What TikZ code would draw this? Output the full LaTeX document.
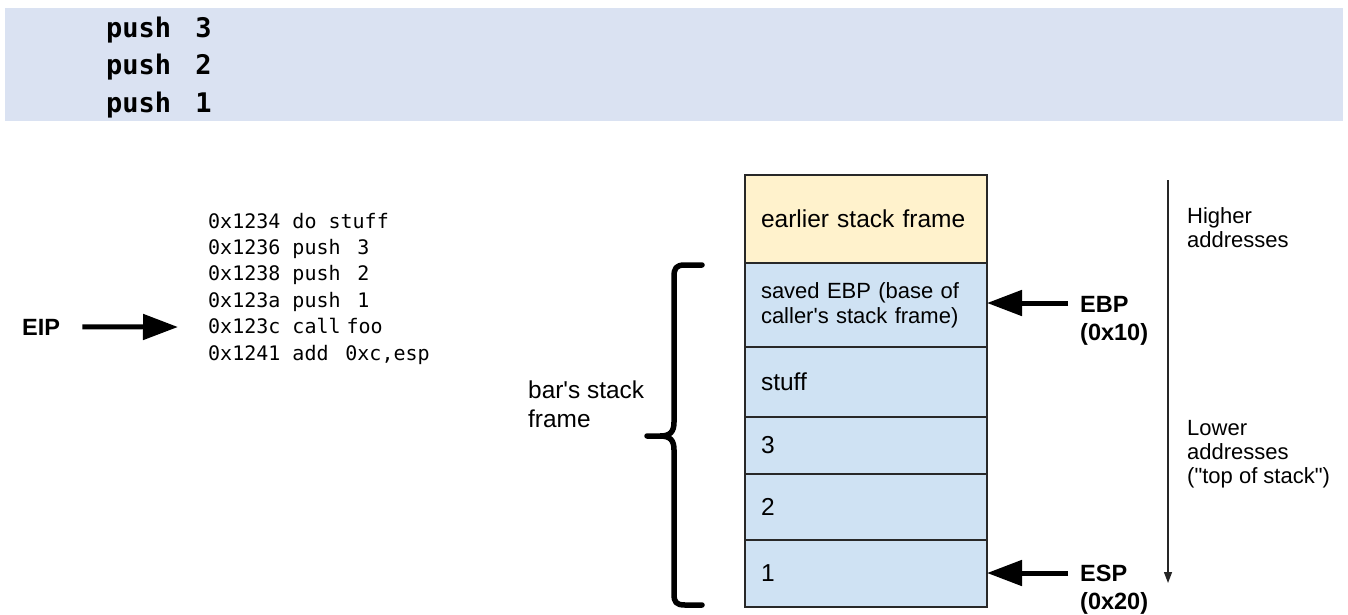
\documentclass[tikz,border=0pt]{standalone}
\usepackage{fontspec}
\setmainfont{Liberation Sans}
% families declared with \newfontfamily keep straight quote marks
\newfontfamily\arial{Liberation Sans}
\newfontfamily\codefont{DejaVu Sans Mono}
\usetikzlibrary{arrows.meta}
\definecolor{bandfill}{RGB}{218,226,242}
\definecolor{framefill}{RGB}{255,242,204}
\definecolor{slotfill}{RGB}{207,226,243}
\definecolor{slotline}{RGB}{40,40,40}
\tikzset{
  slot/.style={draw=slotline, line width=1.8pt, anchor=north west, outer sep=0pt,
    minimum width=242pt, text width=210pt, inner xsep=16pt, inner ysep=0pt,
    align=left, fill=slotfill, font=\arial\fontsize{24.5}{28}\selectfont},
  reglabel/.style={inner sep=0pt, align=left, anchor=base west,
    font=\arial\bfseries\fontsize{23.5}{28}\selectfont},
  note/.style={inner sep=0pt, align=left, anchor=base west,
    font=\arial\fontsize{22}{24}\selectfont},
  bigarrow/.style={line width=5pt, -{Triangle[length=35pt,width=25pt]}},
  addrarrow/.style={line width=1.4pt, draw=black!85,
    -{Triangle[length=11pt,width=8pt]}},
  bracestroke/.style={line width=5.5pt, line cap=round, line join=round}
}
\begin{document}
\begin{tikzpicture}[x=1pt,y=-1pt]
\useasboundingbox (0,0) rectangle (1348,614);

% instruction listing in the shaded band (anchored on the last line)
\fill[bandfill] (5,8) rectangle (1343,121);
\node[inner sep=0pt, align=left, anchor=base west,
      font=\codefont\bfseries\fontsize{27}{37.5}\selectfont] (pushes) at (106,112)
  {push\hspace{0.9em}3\\push\hspace{0.9em}2\\push\hspace{0.9em}1};

% caller's code with the instruction pointer
\node[inner sep=0pt, align=left, anchor=base west,
      font=\codefont\fontsize{20}{26.4}\selectfont] (code) at (208,360)
  {0x1234 do stuff\\
   0x1236 push\hspace{0.84em}3\\
   0x1238 push\hspace{0.84em}2\\
   0x123a push\hspace{0.84em}1\\
   0x123c call\hspace{0.3em}foo\\
   0x1241 add\hspace{0.84em}0xc,esp};
\node[reglabel] (eip) at (22,335) {EIP};
\coordinate (eiptip) at (178,327);
\draw[bigarrow] ([xshift=22pt]eip.east) -- (eiptip);

% the stack
\node[slot, fill=framefill, minimum height=88pt] (early) at (745,175) {earlier stack frame};
\node[slot, minimum height=84pt, font=\arial\fontsize{22}{25}\selectfont] (saved) at (early.south west)
  {saved EBP (base of\\caller's stack frame)};
\node[slot, minimum height=70pt] (stuff) at (saved.south west) {stuff};
\node[slot, minimum height=57pt] (three) at (stuff.south west) {3};
\node[slot, minimum height=66pt] (two) at (three.south west) {2};
\node[slot, minimum height=67pt] (one) at (two.south west) {1};

% brace marking bar's frame
\draw[bracestroke] (702,265) -- (685,265) .. controls (676,265) and (674,268) .. (674,277)
  -- (674,422) .. controls (674,432) and (670,436) .. (660,436) -- (647,436)
  (660,436) .. controls (670,436) and (674,440) .. (674,450)
  -- (674,594) .. controls (674,602) and (676,605) .. (685,605) -- (702,605);
\node[inner sep=0pt, align=left, anchor=base west,
      font=\arial\fontsize{24.4}{29}\selectfont] (barlabel) at (528,427) {bar's stack\\frame};

% frame and stack pointers
\node[reglabel] (ebp) at (1080,340) {EBP\\(0x10)};
\node[reglabel] (esp) at (1080,609) {ESP\\(0x20)};
\coordinate (ebpfrom) at (1068,303);
\coordinate (espfrom) at (1068,573);
\draw[bigarrow] (ebpfrom) -- (saved.east |- ebpfrom);
\draw[bigarrow] (espfrom) -- (one.east |- espfrom);

% address direction
\coordinate (addrtop) at (1168,180);
\coordinate (addrbot) at (1168,583);
\draw[addrarrow] (addrtop) -- (addrbot);
\node[note] (high) at (1187,247) {Higher\\addresses};
\node[note] (low) at (1187,483) {Lower\\addresses\\("top of stack")};
\end{tikzpicture}
\end{document}
